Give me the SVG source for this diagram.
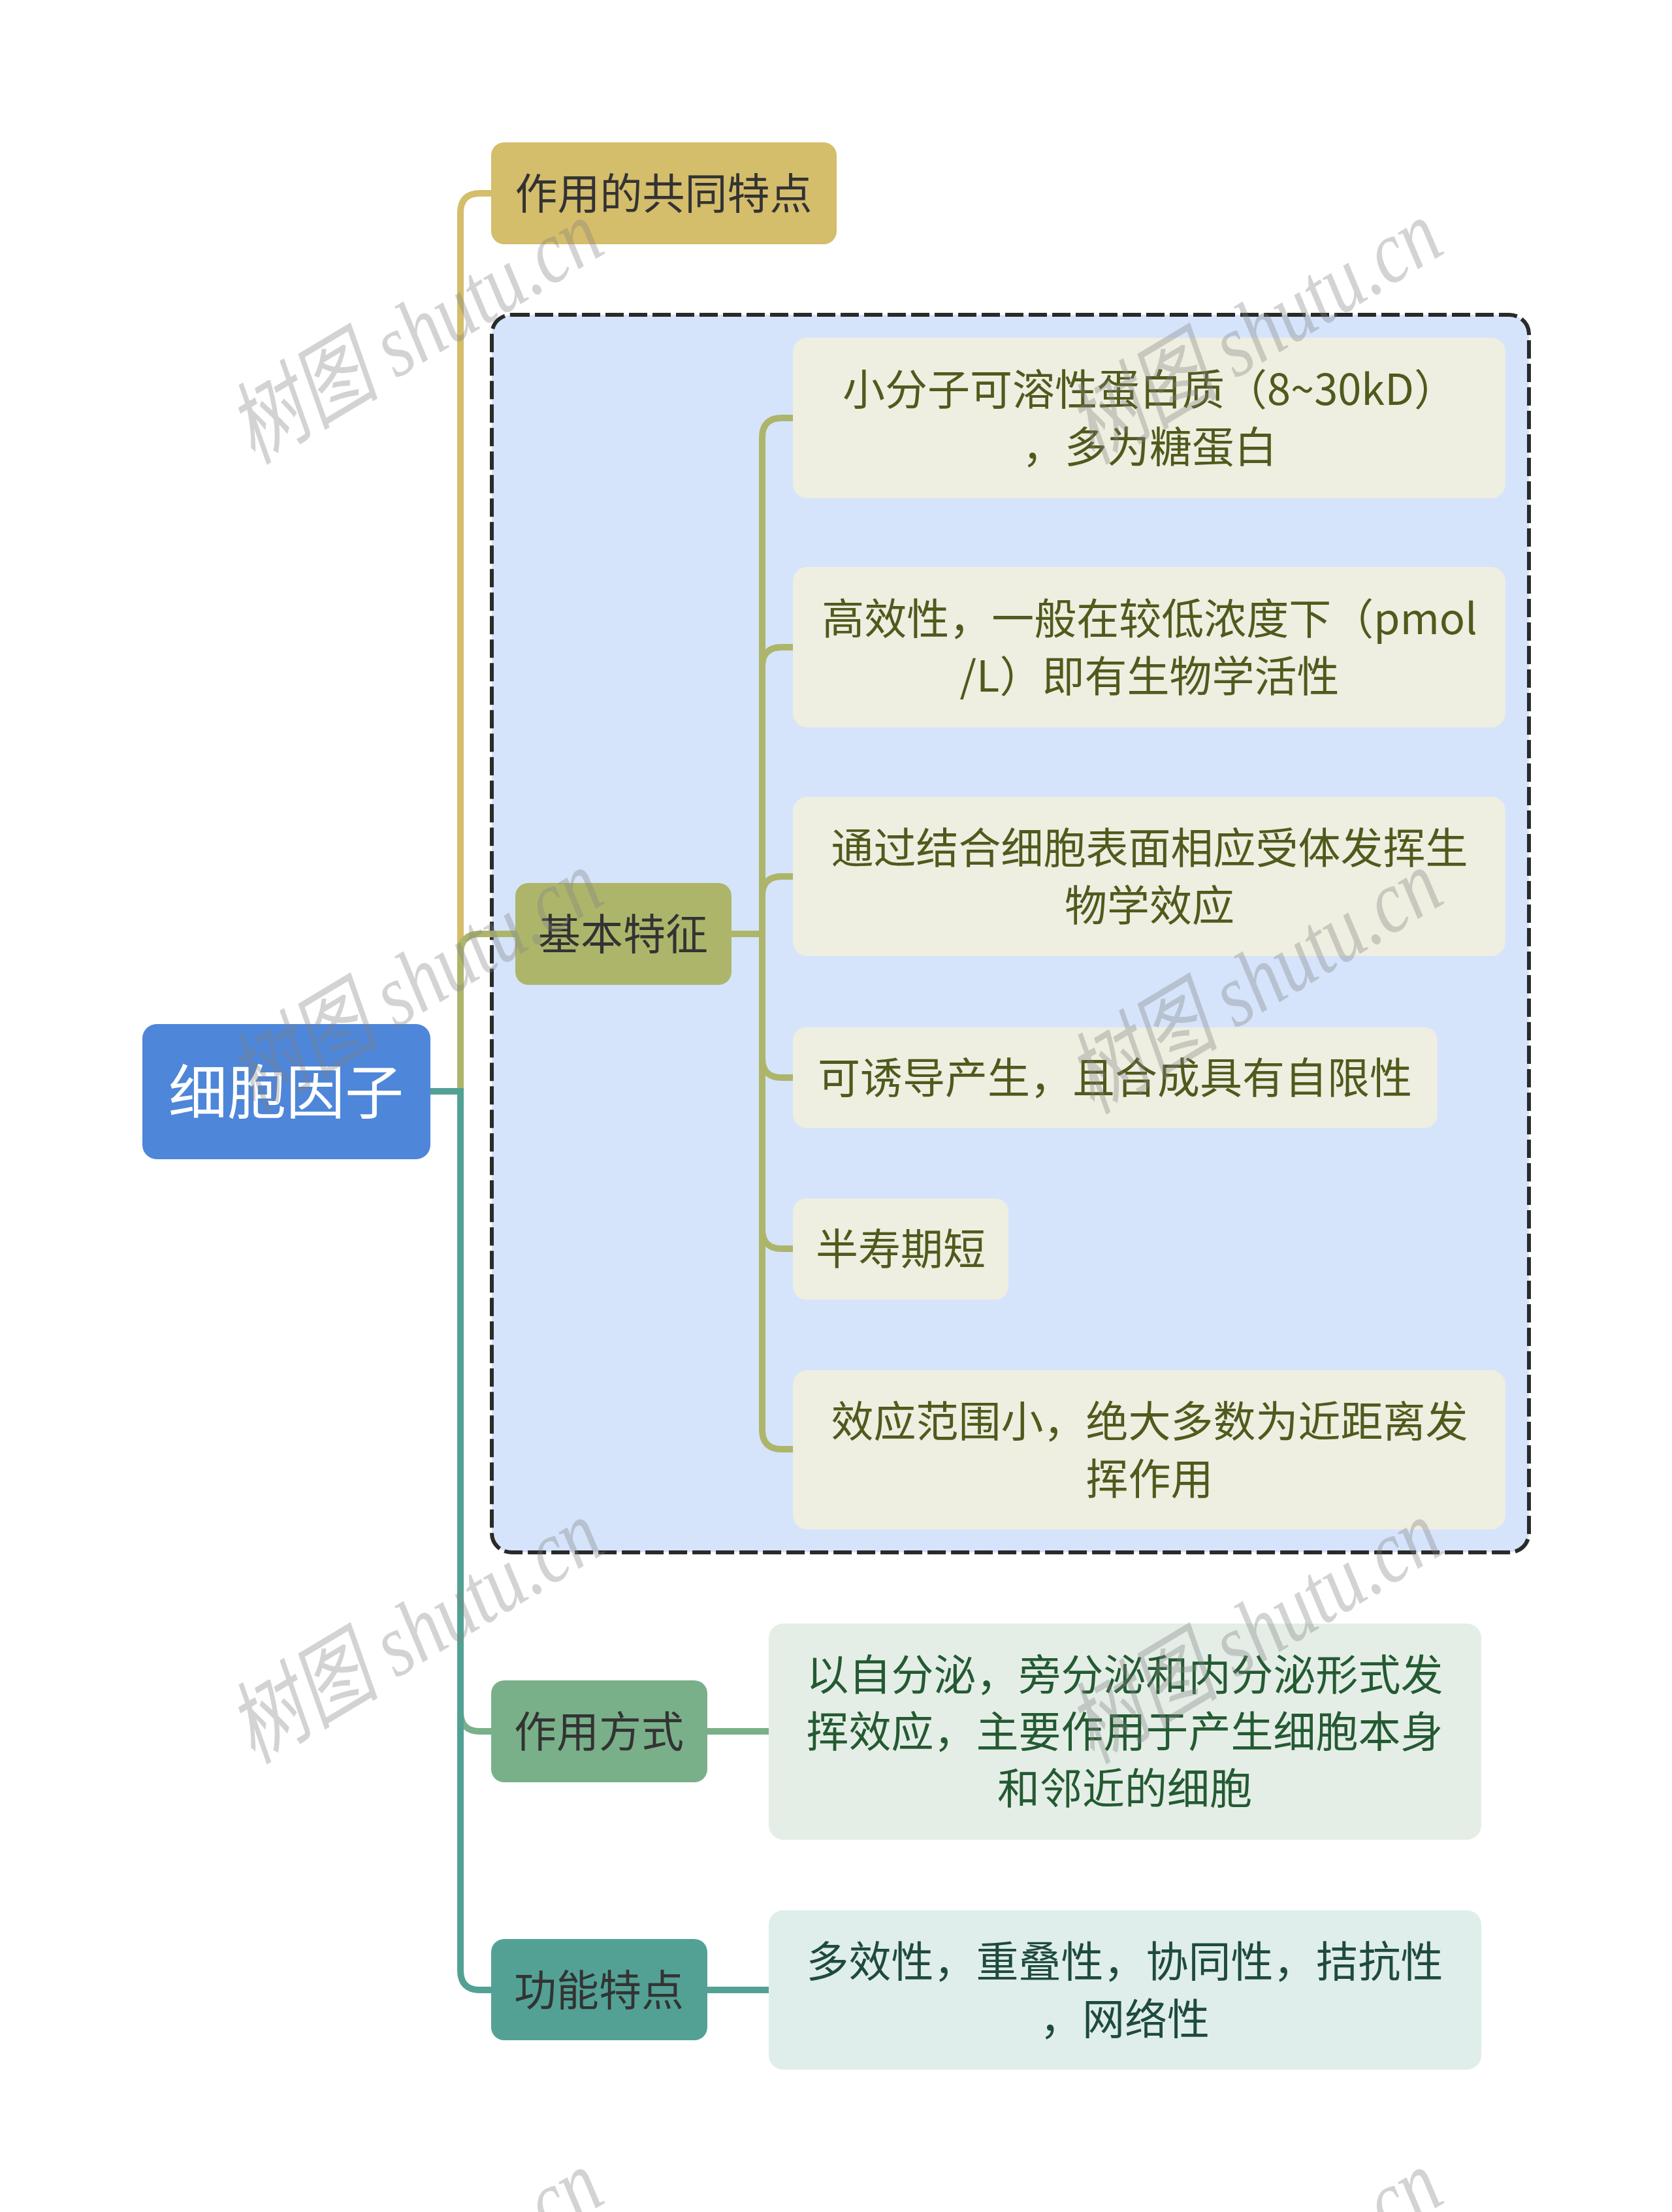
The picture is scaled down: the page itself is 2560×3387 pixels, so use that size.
<svg xmlns="http://www.w3.org/2000/svg" xmlns:xlink="http://www.w3.org/1999/xlink" width="2560" height="3387" viewBox="0 0 2560 3387">
<defs>
<style>
text{font-family:"Noto Sans CJK SC","Noto Sans",sans-serif;text-anchor:middle;dominant-baseline:central;}
.t1{font-size:65px;fill:#333333;}
.t2{font-size:65px;}
.olive{fill:#505a1c;}
.green{fill:#245a33;}
.teal{fill:#1f4a3f;}
.conn{fill:none;stroke-width:10;}
.wm{font-family:"Liberation Serif","Noto Sans CJK SC",serif;font-style:italic;font-size:128px;fill:#808080;fill-opacity:0.35;text-anchor:middle;dominant-baseline:central;}
</style>
<text id="wm" class="wm" x="0" y="0">树图 shutu.cn</text>
</defs>
<rect x="0" y="0" width="2560" height="3387" fill="#ffffff"/>

<g id="boundary">
<rect x="753" y="482" width="1588" height="1895" rx="30" ry="30" fill="#d5e4fb" stroke="#2a2a2a" stroke-width="6" stroke-dasharray="28 8"/>
</g>

<g id="connectors">
<path class="conn" stroke="#d4bd6b" d="M659 1671 H705 V326 Q705 296 735 296 H752"/>
<path class="conn" stroke="#adb56b" d="M659 1671 H705 V1460 Q705 1430 735 1430 H789"/>
<path class="conn" stroke="#79b089" d="M659 1671 H705 V2621 Q705 2651 735 2651 H752"/>
<path class="conn" stroke="#53a195" d="M659 1671 H705 V3017 Q705 3047 735 3047 H752"/>
<path class="conn" stroke="#adb56b" d="M1120 1430 H1167 V670 Q1167 640 1197 640 H1214"/>
<path class="conn" stroke="#adb56b" d="M1120 1430 H1167 V1021 Q1167 991 1197 991 H1214"/>
<path class="conn" stroke="#adb56b" d="M1120 1430 H1167 V1372 Q1167 1342 1197 1342 H1214"/>
<path class="conn" stroke="#adb56b" d="M1120 1430 H1167 V1620 Q1167 1650 1197 1650 H1214"/>
<path class="conn" stroke="#adb56b" d="M1120 1430 H1167 V1882 Q1167 1912 1197 1912 H1214"/>
<path class="conn" stroke="#adb56b" d="M1120 1430 H1167 V2189 Q1167 2219 1197 2219 H1214"/>
<path class="conn" stroke="#79b089" d="M1083 2651 H1177"/>
<path class="conn" stroke="#53a195" d="M1083 3047 H1177"/>
</g>

<g id="root">
<rect x="218" y="1568" width="441" height="207" rx="22" fill="#4e86d9"/>
<text x="438" y="1666" style="font-size:90px;fill:#ffffff;">细胞因子</text>
</g>

<g id="n-common">
<rect x="752" y="218" width="529" height="156" rx="20" fill="#d4bd6b"/>
<text class="t1" x="1016" y="292">作用的共同特点</text>
</g>

<g id="n-basic">
<rect x="789" y="1352" width="331" height="156" rx="20" fill="#adb56b"/>
<text class="t1" x="954" y="1426">基本特征</text>
</g>

<g id="b1">
<rect x="1214" y="517" width="1091" height="246" rx="22" fill="#eeeee1"/>
<text class="t2 olive" x="1760" y="592">小分子可溶性蛋白质（8~30kD）</text>
<text class="t2 olive" x="1760" y="680">，多为糖蛋白</text>
</g>

<g id="b2">
<rect x="1214" y="868" width="1091" height="246" rx="22" fill="#eeeee1"/>
<text class="t2 olive" x="1760" y="943">高效性，一般在较低浓度下（pmol</text>
<text class="t2 olive" x="1760" y="1031">/L）即有生物学活性</text>
</g>

<g id="b3">
<rect x="1214" y="1220" width="1091" height="244" rx="22" fill="#eeeee1"/>
<text class="t2 olive" x="1760" y="1294">通过结合细胞表面相应受体发挥生</text>
<text class="t2 olive" x="1760" y="1382">物学效应</text>
</g>

<g id="b4">
<rect x="1214" y="1573" width="987" height="154" rx="20" fill="#eeeee1"/>
<text class="t2 olive" x="1707" y="1646">可诱导产生，且合成具有自限性</text>
</g>

<g id="b5">
<rect x="1214" y="1835" width="330" height="155" rx="20" fill="#eeeee1"/>
<text class="t2 olive" x="1379" y="1908">半寿期短</text>
</g>

<g id="b6">
<rect x="1214" y="2098" width="1091" height="244" rx="22" fill="#eeeee1"/>
<text class="t2 olive" x="1760" y="2172">效应范围小，绝大多数为近距离发</text>
<text class="t2 olive" x="1760" y="2260">挥作用</text>
</g>

<g id="n-mode">
<rect x="752" y="2573" width="331" height="156" rx="20" fill="#79b089"/>
<text class="t1" x="917" y="2647">作用方式</text>
</g>

<g id="m1">
<rect x="1177" y="2486" width="1091" height="331" rx="22" fill="#e4eee6"/>
<text class="t2 green" x="1722" y="2560">以自分泌，旁分泌和内分泌形式发</text>
<text class="t2 green" x="1722" y="2647">挥效应，主要作用于产生细胞本身</text>
<text class="t2 green" x="1722" y="2734">和邻近的细胞</text>
</g>

<g id="n-func">
<rect x="752" y="2969" width="331" height="155" rx="20" fill="#53a195"/>
<text class="t1" x="917" y="3043">功能特点</text>
</g>

<g id="f1">
<rect x="1177" y="2925" width="1091" height="244" rx="22" fill="#dfeeeb"/>
<text class="t2 teal" x="1722" y="2999">多效性，重叠性，协同性，拮抗性</text>
<text class="t2 teal" x="1722" y="3087">，网络性</text>
</g>

<g id="watermarks">
<use xlink:href="#wm" transform="translate(636 508) rotate(-31) scale(0.88 1.08)"/>
<use xlink:href="#wm" transform="translate(1921 508) rotate(-31) scale(0.88 1.08)"/>
<use xlink:href="#wm" transform="translate(636 1503) rotate(-31) scale(0.88 1.08)"/>
<use xlink:href="#wm" transform="translate(1921 1503) rotate(-31) scale(0.88 1.08)"/>
<use xlink:href="#wm" transform="translate(636 2498) rotate(-31) scale(0.88 1.08)"/>
<use xlink:href="#wm" transform="translate(1921 2498) rotate(-31) scale(0.88 1.08)"/>
<use xlink:href="#wm" transform="translate(636 3493) rotate(-31) scale(0.88 1.08)"/>
<use xlink:href="#wm" transform="translate(1921 3493) rotate(-31) scale(0.88 1.08)"/>
</g>
</svg>
